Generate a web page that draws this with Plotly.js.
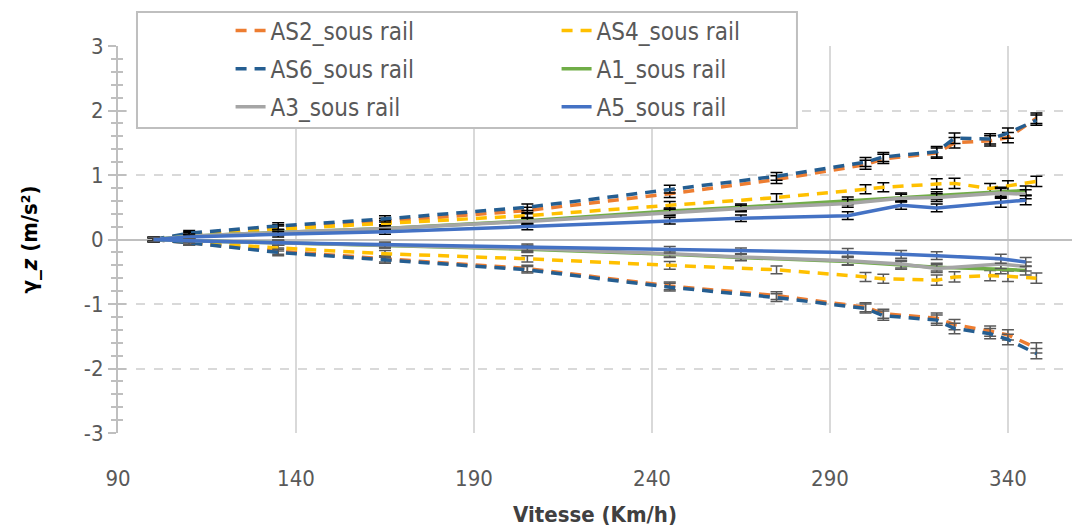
<!DOCTYPE html>
<html><head><meta charset="utf-8">
<script src="https://cdn.plot.ly/plotly-3.0.1.min.js"></script>
<style>html,body{margin:0;padding:0;background:#fff}#chart{width:1073px;height:531px}</style>
</head><body><div id="chart"></div>
<script>
// Speeds (km/h)
const xAS = [100,110,135,165,205,245,275,300,305,320,325,335,340,348];
const xA  = [100,110,135,165,205,245,265,295,310,320,338,345];
// Upper branches
const as2Up = [0,0.08,0.18,0.28,0.45,0.71,0.93,1.16,1.25,1.34,1.50,1.53,1.58,1.88];
const as4Up = [0,0.07,0.16,0.25,0.37,0.53,0.65,0.78,0.81,0.86,0.87,0.79,0.83,0.90];
const as6Up = [0,0.10,0.21,0.32,0.50,0.78,0.98,1.20,1.28,1.36,1.57,1.56,1.65,1.85];
const a1Up  = [0,0.05,0.11,0.17,0.29,0.44,0.50,0.60,0.66,0.68,0.74,0.76];
const a3Up  = [0,0.05,0.11,0.17,0.28,0.42,0.48,0.56,0.64,0.65,0.72,0.70];
const a5Up  = [0,0.04,0.08,0.12,0.20,0.29,0.33,0.37,0.53,0.49,0.57,0.61];
// Lower branches
const as2Dn = [0,-0.05,-0.18,-0.30,-0.45,-0.72,-0.87,-1.05,-1.15,-1.22,-1.32,-1.42,-1.48,-1.68];
const as4Dn = [0,-0.04,-0.13,-0.22,-0.30,-0.40,-0.47,-0.58,-0.61,-0.63,-0.58,-0.56,-0.57,-0.60];
const as6Dn = [0,-0.05,-0.20,-0.32,-0.47,-0.74,-0.90,-1.07,-1.18,-1.25,-1.38,-1.46,-1.55,-1.77];
const a1Dn  = [0,-0.02,-0.05,-0.09,-0.15,-0.23,-0.28,-0.34,-0.40,-0.43,-0.46,-0.48];
const a3Dn  = [0,-0.02,-0.05,-0.09,-0.14,-0.22,-0.27,-0.33,-0.38,-0.45,-0.38,-0.42];
const a5Dn  = [0,-0.02,-0.05,-0.08,-0.12,-0.16,-0.18,-0.20,-0.23,-0.25,-0.30,-0.35];
// Error bar half-widths
const errAS = [0.03,0.04,0.05,0.05,0.05,0.06,0.06,0.07,0.07,0.08,0.08,0.08,0.08,0.08];
const errA  = [0.03,0.03,0.04,0.04,0.05,0.05,0.05,0.06,0.06,0.06,0.07,0.07];
// Axis tick labels
const xTicks = [90,140,190,240,290,340];
const yTicks = [-3,-2,-1,0,1,2,3];
const yTickText = ['-3','-2','-1','0','1','2','3'];

const names = ['AS2_sous rail','AS4_sous rail','AS6_sous rail','A1_sous rail','A3_sous rail','A5_sous rail'];
const colors = ['#ED7D31','#FFC000','#255E91','#70AD47','#A5A5A5','#4472C4'];
const dashes = ['11px,8px','11px,8px','11px,8px','solid','solid','solid'];
const legendIds = ['legend','legend','legend2','legend2','legend3','legend3'];
const xs = [xAS,xAS,xAS,xA,xA,xA];
const ups = [as2Up,as4Up,as6Up,a1Up,a3Up,a5Up];
const dns = [as2Dn,as4Dn,as6Dn,a1Dn,a3Dn,a5Dn];
const errs = [errAS,errAS,errAS,errA,errA,errA];

const traces = [];
for (let i=0;i<names.length;i++){
  const line = {color:colors[i], width:3.5, dash:dashes[i]};
  traces.push({x:xs[i], y:ups[i], type:'scatter', mode:'lines', name:names[i], legendgroup:names[i],
    legend:legendIds[i], line:line,
    error_y:{type:'data', array:errs[i], visible:true, color:'#000000', thickness:1.5, width:6}});
  traces.push({x:xs[i], y:dns[i], type:'scatter', mode:'lines', name:names[i], legendgroup:names[i],
    legend:legendIds[i], showlegend:false, line:line,
    error_y:{type:'data', array:errs[i], visible:true, color:'#595959', thickness:1.5, width:6}});
}

const fontFam = '"DejaVu Sans Condensed", "Liberation Sans Narrow", Lato, sans-serif';
const legBase = {orientation:'h', xanchor:'left', yanchor:'middle', x:0.118, bgcolor:'rgba(0,0,0,0)',
  borderwidth:0, entrywidthmode:'pixels', entrywidth:281, font:{family:fontFam, size:24, color:'#595959'}};

const layout = {
  width:1073, height:531,
  margin:{l:118, r:1, t:46, b:98},
  paper_bgcolor:'#fff', plot_bgcolor:'#fff',
  showlegend:true,
  legend:Object.assign({}, legBase, {y:1.039}),
  legend2:Object.assign({}, legBase, {y:0.940}),
  legend3:Object.assign({}, legBase, {y:0.842}),
  xaxis:{range:[90,358], tickvals:xTicks, showgrid:true, gridcolor:'#D9D9D9', gridwidth:2,
    zeroline:false, showline:false, ticks:'', ticklabelstandoff:30,
    tickfont:{family:fontFam, size:22, color:'#595959'},
    title:{text:'<b>Vitesse (Km/h)</b>', font:{family:fontFam, size:22, color:'#404040'}, standoff:16}},
  yaxis:{range:[-3,3], tickvals:yTicks, ticktext:yTickText, showgrid:true, gridcolor:'#D9D9D9', gridwidth:2, griddash:'dash',
    zeroline:true, zerolinecolor:'#BFBFBF', zerolinewidth:2,
    showline:true, linecolor:'#BFBFBF', linewidth:2, ticks:'outside', ticklen:8, tickwidth:2, tickcolor:'#BFBFBF',
    minor:{dtick:0.2, ticks:'outside', ticklen:5, tickwidth:2, tickcolor:'#BFBFBF', showgrid:false},
    tickfont:{family:fontFam, size:22, color:'#595959'},
    title:{text:'<b>γ_<i>z</i> (m/s²)</b>', font:{family:fontFam, size:22, color:'#000'}, standoff:40}},
  yaxis2:{overlaying:'y', range:[-3,3], dtick:1, showgrid:false, zeroline:false, showticklabels:false,
    ticks:'inside', ticklen:8, tickwidth:2, tickcolor:'#BFBFBF', showline:false,
    minor:{dtick:0.2, ticks:'inside', ticklen:5, tickwidth:2, tickcolor:'#BFBFBF'}},
  shapes:[{type:'rect', xref:'paper', yref:'paper', x0:0.0199, x1:0.7117, y0:0.788, y1:1.088,
    line:{color:'#BFBFBF', width:2}, fillcolor:'#fff', layer:'above'}]
};
// invisible point to activate the inner tick marks of yaxis2
traces.push({x:[90], y:[0], yaxis:'y2', type:'scatter', mode:'markers', marker:{opacity:0}, showlegend:false, hoverinfo:'skip'});

Plotly.newPlot('chart', traces, layout, {displayModeBar:false, staticPlot:true});
</script>
</body></html>
